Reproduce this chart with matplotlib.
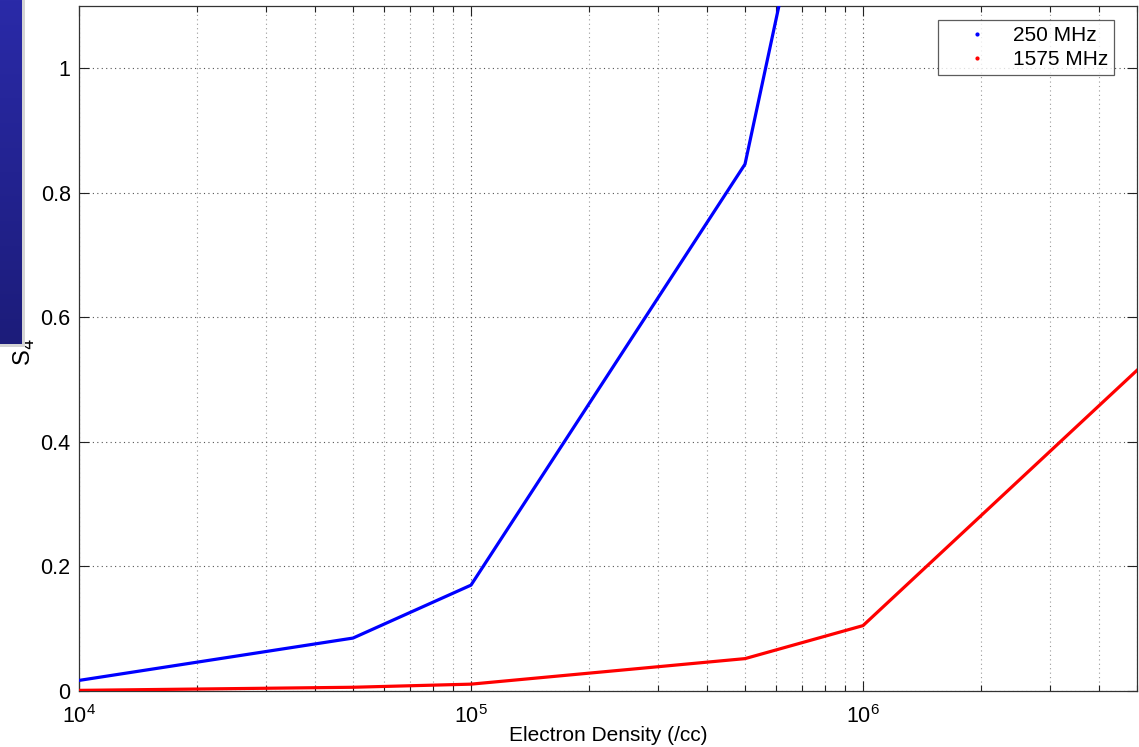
import numpy as np
import matplotlib
matplotlib.use("Agg")
import matplotlib.pyplot as plt
from matplotlib.ticker import LogLocator, NullFormatter, FixedLocator
from matplotlib.colors import LinearSegmentedColormap

plt.rcParams['font.family'] = ['Liberation Sans', 'DejaVu Sans']

density = [1e4, 5e4, 1e5, 5e5, 1e6, 5e6]
s4_250 = [0.017, 0.085, 0.170, 0.846, 1.73, 3.5]
s4_1575 = [0.001, 0.006, 0.011, 0.052, 0.105, 0.515]
series_labels = ["250 MHz", "1575 MHz"]
y_ticks = [0, 0.2, 0.4, 0.6, 0.8, 1]
y_tick_labels = ["0", "0.2", "0.4", "0.6", "0.8", "1"]

fig = plt.figure(figsize=(11.39, 7.47), dpi=100)
ax = fig.add_axes([79/1139, 56/747, (1137-79)/1139, (691-6)/747])

ax.plot(density, s4_250, color='#0000ff', lw=2.3, solid_joinstyle='round', zorder=3)
ax.plot(density, s4_1575, color='#ff0000', lw=2.3, solid_joinstyle='round', zorder=3)

ax.set_xscale('log')
ax.set_xlim(1e4, 5e6)
ax.set_ylim(0, 1.1)
ax.yaxis.set_major_locator(FixedLocator(y_ticks))
ax.set_yticklabels(y_tick_labels)
ax.xaxis.set_major_locator(LogLocator(base=10, numticks=10))
ax.xaxis.set_minor_locator(LogLocator(base=10, subs=np.arange(2, 10), numticks=20))
ax.xaxis.set_minor_formatter(NullFormatter())

ax.grid(True, which='major', axis='both', color='#555555', linestyle=(0, (1, 3)), lw=0.8)
ax.grid(True, which='minor', axis='x', color='#999999', linestyle=(0, (1, 3)), lw=0.8)
ax.tick_params(which='both', direction='in', top=True, right=True, labelsize=15.5, colors='#222222', labelcolor='black')
ax.tick_params(which='major', length=7, width=0.8)
ax.tick_params(which='minor', length=4, width=0.8)
ax.tick_params(axis='x', pad=10)
ax.tick_params(axis='y', pad=6)
for sp in ax.spines.values():
    sp.set_color('#333333')
    sp.set_linewidth(0.9)

ax.set_xlabel("Electron Density (/cc)", fontsize=15)
ax.xaxis.set_label_coords(0.5, (691 - 726) / 685)
ax.set_ylabel("S$_4$", fontsize=17)
ax.yaxis.set_label_coords(-0.040, 0.495)

h1, = ax.plot([], [], '.', color='#0000ff', ms=4)
h2, = ax.plot([], [], '.', color='#ff0000', ms=4)
leg = ax.legend([h1, h2], series_labels, loc='upper right', fontsize=15,
                frameon=True, fancybox=False, edgecolor='#333333',
                bbox_to_anchor=(0.9783, 0.9796), handlelength=3.2, handletextpad=0.1,
                borderpad=0.3, labelspacing=0.22, borderaxespad=0)
leg.get_frame().set_linewidth(0.9)

# decorative gradient panel on left (slide artifact)
grad = np.linspace(0, 1, 256).reshape(-1, 1)
cmap = LinearSegmentedColormap.from_list('navy', ['#2a2aa8', '#1c1c7a'])
sh = fig.add_axes([0, 1 - 347/747, 25/1139, 347/747], zorder=4)
sh.axis('off')
sh.add_patch(plt.Rectangle((0, 0), 1, 1, transform=sh.transAxes, color='#d4d4d4', zorder=0))
pax = fig.add_axes([0, 1 - 344/747, 22/1139, 344/747], zorder=5)
pax.imshow(grad, aspect='auto', cmap=cmap, extent=[0, 1, 0, 1])
pax.axis('off')

fig.savefig('out.png', dpi=100)
